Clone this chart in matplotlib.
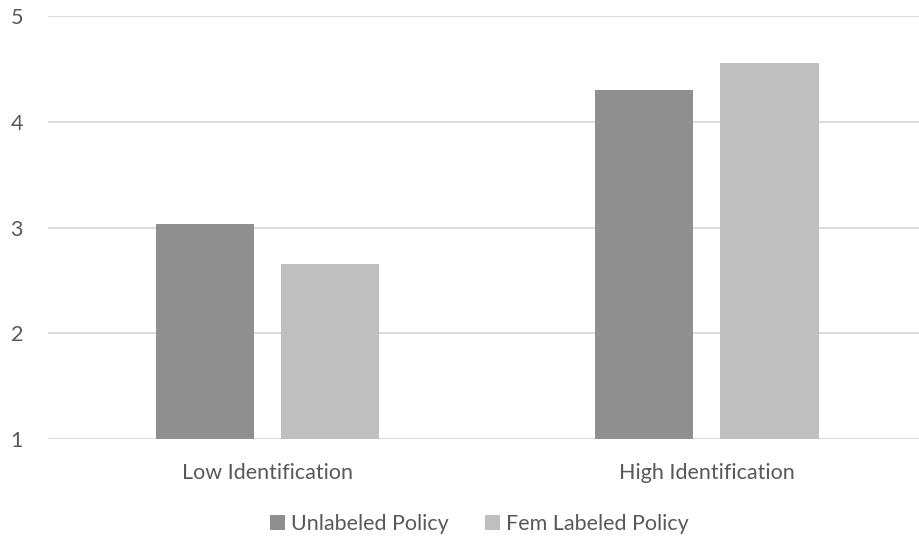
import numpy as np
import matplotlib.pyplot as plt

categories = ['Low Identification', 'High Identification']
series_names = ['Unlabeled Policy', 'Fem Labeled Policy']
unlabeled = [3.03, 4.30]
fem_labeled = [2.66, 4.55]
yticks = [1, 2, 3, 4, 5]

colors = ['#8f8f8f', '#bfbfbf']
text_color = '#595959'
plt.rcParams['font.family'] = ['Lato', 'DejaVu Sans']

fig = plt.figure(figsize=(9.19, 5.42), dpi=100)
ax = fig.add_axes([48 / 919, 102.7 / 542, 871 / 919, 423.6 / 542])

x = np.arange(len(categories))
width = 0.224
offset = 0.1425
ax.bar(x - offset, unlabeled, width, bottom=0, color=colors[0],
       label=series_names[0], zorder=3)
ax.bar(x + offset, fem_labeled, width, bottom=0, color=colors[1],
       label=series_names[1], zorder=3)

ax.set_ylim(1, 5)
ax.set_xlim(-0.4995, 1.4827)
ax.set_yticks(yticks)
ax.set_xticks(x)
ax.set_xticklabels(categories)
ax.grid(axis='y', color='#d9d9d9', linewidth=1.3, zorder=0)
for s in ax.spines.values():
    s.set_visible(False)
ax.tick_params(axis='both', length=0, labelsize=15.5, labelcolor=text_color)
ax.tick_params(axis='y', pad=18)
ax.tick_params(axis='x', pad=17)

leg = fig.legend(loc='center', bbox_to_anchor=(479.5 / 919, 1 - 524 / 542), ncol=2,
                 frameon=False, fontsize=15.5, handlelength=0.7, handleheight=0.7,
                 handletextpad=0.3, columnspacing=1.65)
for t in leg.get_texts():
    t.set_color(text_color)

fig.savefig('out.png', dpi=100)
